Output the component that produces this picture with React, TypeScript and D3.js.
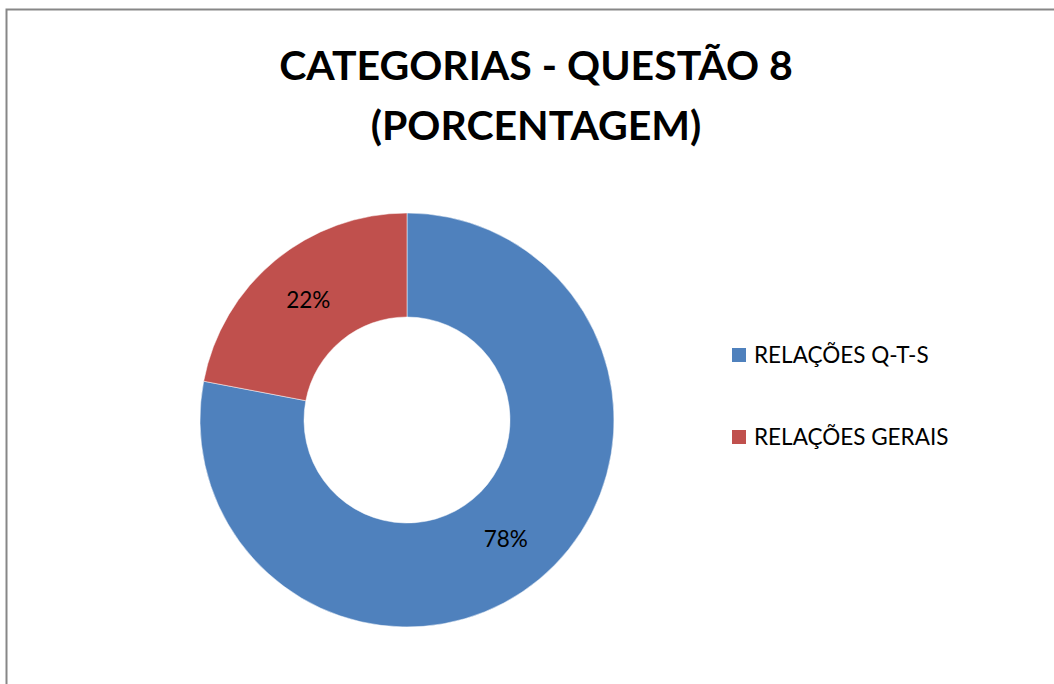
import React from 'react';
import * as d3 from 'd3';

const W = 1054;
const H = 684;

const CATEGORIES = ['RELAÇÕES Q-T-S', 'RELAÇÕES GERAIS'];
const VALUES = [78, 22];
const COLORS = ['#4F81BD', '#C0504D'];
const TITLE_LINES = ['CATEGORIAS - QUESTÃO 8', '(PORCENTAGEM)'];

const FONT = 'Lato, "Open Sans", sans-serif';

export default function App() {
  const cx = 407;
  const cy = 420;
  const outerR = 207;
  const innerR = 103;

  const pie = d3.pie<number>().sort(null).value(d => d);
  const arcs = pie(VALUES);
  const arcGen = d3.arc<d3.PieArcDatum<number>>().innerRadius(innerR).outerRadius(outerR);
  const total = d3.sum(VALUES);

  const legendY = d3.scalePoint<string>().domain(CATEGORIES).range([355, 437]);

  return (
    <svg width={W} height={H} style={{ display: 'block', position: 'absolute', left: 0, top: 0 }}>
      <rect x={0} y={0} width={W} height={H} fill="#fff" />
      <rect x={6.5} y={9.5} width={W + 10} height={H + 10} fill="none" stroke="#878787" strokeWidth={2} />

      {TITLE_LINES.map((t, i) => (
        <text key={t} x={536} y={80 + i * 60} textAnchor="middle" fontFamily={FONT}
          fontWeight={700} fontSize={41} fill="#000">{t}</text>
      ))}

      <g transform={`translate(${cx},${cy})`}>
        {arcs.map((a, i) => (
          <path key={i} d={arcGen(a) || ''} fill={COLORS[i]} stroke="#fff" strokeWidth={0.5} />
        ))}
        {arcs.map((a, i) => {
          const [x, y] = arcGen.centroid(a);
          return (
            <text key={'l' + i} x={x} y={y} dy="0.35em" textAnchor="middle" fontFamily={FONT}
              fontSize={22.5} fill="#000">{Math.round((a.data / total) * 100)}%</text>
          );
        })}
      </g>

      {CATEGORIES.map((c, i) => (
        <g key={c} transform={`translate(732,${legendY(c)})`}>
          <rect x={0} y={-7} width={14} height={14} fill={COLORS[i]} />
          <text x={22} y={0} dy="0.35em" fontFamily={FONT} fontSize={22.5} fill="#000">{c}</text>
        </g>
      ))}
    </svg>
  );
}
